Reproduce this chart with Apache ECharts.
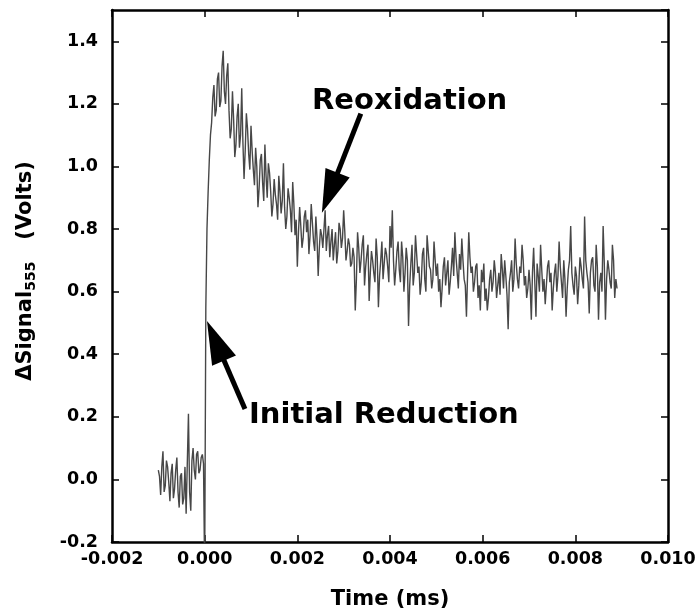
<!DOCTYPE html>
<html><head><meta charset="utf-8">
<script src="https://cdn.jsdelivr.net/npm/echarts@6/dist/echarts.min.js"></script>
<style>html,body{margin:0;padding:0;background:#fff}#c{width:700px;height:615px}</style>
</head><body><div id="c"></div>
<script>
// ---- data (time in ms, sampled every 0.000025 starting at -0.001) ----
const tStart = -0.001;
const tStep = 0.000025;
const baseline = [
  0.03,0.01,-0.05,0.04,0.09,-0.04,-0.02,0.06,0.04,-0.01,
  -0.07,0.02,0.05,-0.06,-0.03,0.03,0.07,-0.04,-0.09,0.01,
  0.02,-0.08,-0.06,0.04,-0.11,0.05,0.21,-0.04,-0.10,0.06,
  0.10,0.03,0.00,0.08,0.09,0.02,0.03,0.07,0.08,0.05
];
const trigger = [-0.30];
const rise = [0.55,0.80,0.92,1.02,1.10,1.14,1.22,1.26,1.16,1.18,1.28,1.30,1.19,1.21,1.32,1.37,1.24,1.20,1.29,1.33];
const decayEarly = [
  1.18,1.09,1.12,1.24,1.15,1.03,1.07,1.16,1.20,1.06,1.10,1.25,1.08,0.96,1.05,1.17,1.12,1.04,0.99,1.13,
  1.05,0.99,0.94,1.06,1.00,0.87,0.93,1.02,1.04,0.95,0.89,1.07,0.97,0.90,1.01,0.98,0.92,0.84,0.88,0.96,
  0.91,0.88,0.83,0.97,0.92,0.85,0.89,1.01,0.87,0.80,0.84,0.93,0.90,0.86,0.79,0.95,0.88,0.78,0.83,0.68,
  0.79,0.87,0.81,0.74,0.77,0.84,0.86,0.79,0.83,0.72,0.78,0.88,0.82,0.76,0.73,0.84,0.77,0.65,0.74,0.80,
  0.78,0.74,0.80,0.86,0.73,0.78,0.81,0.71,0.76,0.80,0.70,0.75,0.79,0.69,0.73,0.82,0.80,0.74,0.77,0.86
];
const decayMid = [
  0.79,0.70,0.73,0.77,0.75,0.68,0.69,0.74,0.71,0.54,0.64,0.79,0.74,0.66,0.70,0.75,0.78,0.62,0.68,0.72,
  0.75,0.57,0.66,0.73,0.70,0.66,0.63,0.77,0.71,0.55,0.65,0.70,0.76,0.64,0.69,0.74,0.72,0.68,0.63,0.81,
  0.74,0.86,0.70,0.62,0.67,0.73,0.76,0.67,0.63,0.76,0.71,0.60,0.66,0.74,0.70,0.49,0.62,0.69,0.75,0.62,
  0.66,0.78,0.72,0.66,0.68,0.59,0.63,0.72,0.74,0.64,0.60,0.78,0.73,0.68,0.67,0.61,0.64,0.76,0.70,0.65
];
const plateau = [
  0.69,0.60,0.64,0.55,0.61,0.68,0.71,0.62,0.66,0.70,0.59,0.63,0.68,0.74,0.65,0.79,0.71,0.66,0.61,0.72,
  0.67,0.77,0.70,0.64,0.62,0.52,0.66,0.79,0.71,0.66,0.68,0.60,0.63,0.68,0.69,0.58,0.62,0.54,0.67,0.63,
  0.69,0.57,0.61,0.54,0.58,0.64,0.67,0.60,0.63,0.70,0.66,0.58,0.62,0.66,0.59,0.72,0.67,0.61,0.70,0.65,
  0.59,0.48,0.63,0.66,0.70,0.60,0.64,0.77,0.69,0.64,0.61,0.68,0.66,0.75,0.70,0.62,0.65,0.58,0.61,0.67,
  0.62,0.51,0.66,0.74,0.63,0.52,0.69,0.65,0.60,0.75,0.67,0.60,0.64,0.56,0.62,0.68,0.70,0.63,0.66,0.54,
  0.61,0.66,0.69,0.60,0.65,0.76,0.68,0.63,0.58,0.70,0.64,0.52,0.61,0.67,0.70,0.81,0.66,0.62,0.59,0.68,
  0.65,0.56,0.62,0.71,0.68,0.64,0.61,0.84,0.70,0.66,0.63,0.53,0.66,0.70,0.71,0.62,0.60,0.75,0.68,0.51,
  0.63,0.66,0.60,0.81,0.69,0.51,0.64,0.70,0.67,0.63,0.61,0.75,0.70,0.58,0.64,0.61
];
const xMin = -0.002, xMax = 0.010, xStep = 0.002;
const yMin = -0.2, yMax = 1.5, yStep = 0.2;
const xTitle = 'Time (ms)';
const yTitle = ['ΔSignal', '555', '   (Volts)'];
const annotations = [
  {text: 'Reoxidation', tail: [0.00337, 1.169], tip: [0.00253, 0.852]},
  {text: 'Initial Reduction', tail: [0.00087, 0.225], tip: [0.00005, 0.506]}
];

const signal = baseline.concat(trigger, rise, decayEarly, decayMid, plateau);
const seriesData = signal.map((v, i) => [+(tStart + i * tStep).toFixed(7), v]);

const FONT = 'DejaVu Sans';
const lab = {fontFamily: FONT, fontWeight: 'bold', fontSize: 17.5, color: '#000'};
function xAx(pos, show) {
  return {
    type: 'value', position: pos, min: xMin, max: xMax, interval: xStep,
    axisLine: {onZero: false, lineStyle: {color: '#000', width: 2.5}},
    axisTick: {inside: true, length: 7, lineStyle: {color: '#000', width: 1.5}},
    axisLabel: Object.assign({show: show, margin: 8, formatter: v => v.toFixed(3)}, lab),
    splitLine: {show: false},
    name: show ? xTitle : '', nameLocation: 'middle', nameGap: 47,
    nameTextStyle: {fontFamily: FONT, fontWeight: 'bold', fontSize: 21, color: '#000'}
  };
}
function yAx(pos, show) {
  return {
    type: 'value', position: pos, min: yMin, max: yMax, interval: yStep,
    axisLine: {onZero: false, lineStyle: {color: '#000', width: 2.5}},
    axisTick: {inside: true, length: 7, lineStyle: {color: '#000', width: 1.5}},
    axisLabel: Object.assign({show: show, margin: 14, showMaxLabel: false, formatter: v => v.toFixed(1)}, lab),
    splitLine: {show: false},
    name: show ? '{a|' + yTitle[0] + '}{s|' + yTitle[1] + '}{a|' + yTitle[2] + '}' : '',
    nameLocation: 'middle', nameGap: 74, nameRotate: 90,
    nameTextStyle: {padding: [0, 0, 0, 10], rich: {
      a: {fontFamily: FONT, fontWeight: 'bold', fontSize: 21, color: '#000', lineHeight: 25},
      s: {fontFamily: FONT, fontWeight: 'bold', fontSize: 14, color: '#000', lineHeight: 10, verticalAlign: 'bottom'}
    }}
  };
}

const chart = echarts.init(document.getElementById('c'), null, {renderer: 'canvas'});
chart.setOption({
  animation: false,
  backgroundColor: '#fff',
  grid: {left: 112, right: 32, top: 10, bottom: 72},
  xAxis: [xAx('bottom', true), xAx('top', false)],
  yAxis: [yAx('left', true), yAx('right', false)],
  series: [{
    type: 'line', data: seriesData, showSymbol: false, clip: true,
    lineStyle: {color: '#474747', width: 1.4}
  }]
});

const headLen = 43, headW = 26;
const graphics = [];
annotations.forEach(a => {
  const p0 = chart.convertToPixel({xAxisIndex: 0, yAxisIndex: 0}, a.tail);
  const p1 = chart.convertToPixel({xAxisIndex: 0, yAxisIndex: 0}, a.tip);
  const dx = p1[0] - p0[0], dy = p1[1] - p0[1], L = Math.hypot(dx, dy);
  const ux = dx / L, uy = dy / L, nx = -uy, ny = ux;
  const bx = p1[0] - ux * headLen, by = p1[1] - uy * headLen;
  graphics.push({type: 'line', z: 10, shape: {x1: p0[0], y1: p0[1], x2: bx + ux * 3, y2: by + uy * 3},
    style: {stroke: '#000', lineWidth: 5}});
  graphics.push({type: 'polygon', z: 10, shape: {points: [[p1[0], p1[1]],
    [bx + nx * headW / 2, by + ny * headW / 2], [bx - nx * headW / 2, by - ny * headW / 2]]},
    style: {fill: '#000'}});
});
graphics.push({type: 'text', z: 10, x: 312, y: 101, style: {text: annotations[0].text,
  font: 'bold 29px "DejaVu Sans"', fill: '#000', align: 'left', verticalAlign: 'middle'}});
graphics.push({type: 'text', z: 10, x: 249, y: 415, style: {text: annotations[1].text,
  font: 'bold 29px "DejaVu Sans"', fill: '#000', align: 'left', verticalAlign: 'middle'}});
chart.setOption({graphic: graphics});
</script>
</body></html>
